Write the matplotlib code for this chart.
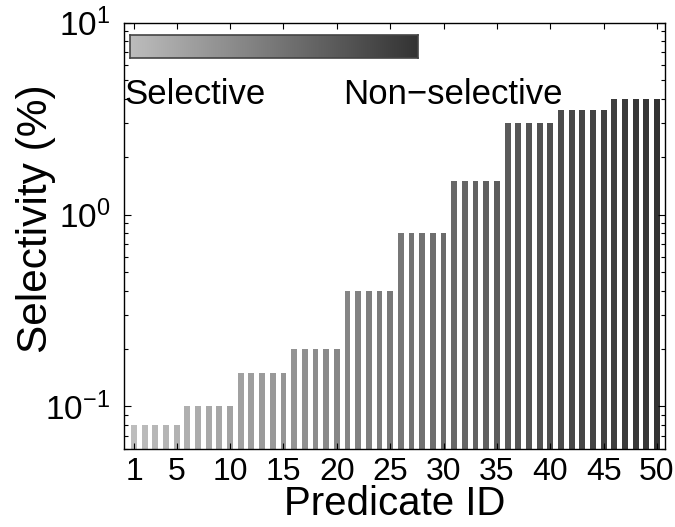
import numpy as np
import matplotlib
matplotlib.use("Agg")
import matplotlib.pyplot as plt
from matplotlib.colors import LinearSegmentedColormap

plt.rcParams["font.family"] = ["Liberation Sans", "DejaVu Sans"]
plt.rcParams["mathtext.fontset"] = "custom"
plt.rcParams["mathtext.rm"] = "Liberation Sans"
plt.rcParams["mathtext.it"] = "Liberation Sans:italic"
plt.rcParams["mathtext.bf"] = "Liberation Sans:bold"

# Predicate selectivities, five predicates per selectivity level
predicate_ids = list(range(1, 51))
level_values = [0.08, 0.1, 0.15, 0.2, 0.4, 0.8, 1.5, 3.0, 3.5, 4.0]
selectivity = [v for v in level_values for _ in range(5)]
x_tick_labels = [1, 5, 10, 15, 20, 25, 30, 35, 40, 45, 50]

# grey ramp: light for selective predicates, dark for non-selective ones
cmap = LinearSegmentedColormap.from_list("sel", [(0.74, 0.74, 0.74), (0.20, 0.20, 0.20)])
n = len(predicate_ids)
colors = [cmap(i / (n - 1)) for i in range(n)]

fig = plt.figure(figsize=(6.75, 5.27), dpi=100)
ax = fig.add_axes([124 / 675, 1 - 449 / 527, 541 / 675, (449 - 22.7) / 527])

ax.bar(predicate_ids, selectivity, width=0.55, color=colors, edgecolor="none")
ax.set_yscale("log")
ax.set_ylim(0.06, 10)
ax.set_xlim(0.06, 50.75)

ax.set_xticks(x_tick_labels)
ax.set_xticklabels([str(t) for t in x_tick_labels])
ax.set_yticks([0.1, 1, 10])

ax.tick_params(which="both", direction="in", top=True, right=True)
ax.tick_params(axis="x", which="major", length=4, width=0.8, pad=6, labelsize=23)
ax.tick_params(axis="x", which="minor", bottom=False, top=False)
ax.tick_params(axis="y", which="major", length=5, width=0.8, pad=10, labelsize=24)
ax.tick_params(axis="y", which="minor", length=3, width=0.8)
for s in ax.spines.values():
    s.set_linewidth(1.0)

ax.set_xlabel("Predicate ID", fontsize=29, labelpad=-2)
ax.set_ylabel("Selectivity (%)", fontsize=30.5)
ax.yaxis.set_label_coords(-0.126, 0.54)

# colour scale legend
cax = fig.add_axes([130 / 675, 1 - 58 / 527, 288 / 675, 23 / 527])
grad = np.linspace(0, 1, 256).reshape(1, -1)
cax.imshow(grad, aspect="auto", cmap=cmap, extent=[0, 1, 0, 1])
cax.set_xticks([])
cax.set_yticks([])
for s in cax.spines.values():
    s.set_color("#444444")
    s.set_linewidth(1.2)

ax.text(0.0, 0.809, "Selective", transform=ax.transAxes, fontsize=25,
        ha="left", va="baseline")
ax.text(0.405, 0.809, "Non\u2212selective", transform=ax.transAxes, fontsize=25,
        ha="left", va="baseline")

fig.savefig("out.png", dpi=100)
